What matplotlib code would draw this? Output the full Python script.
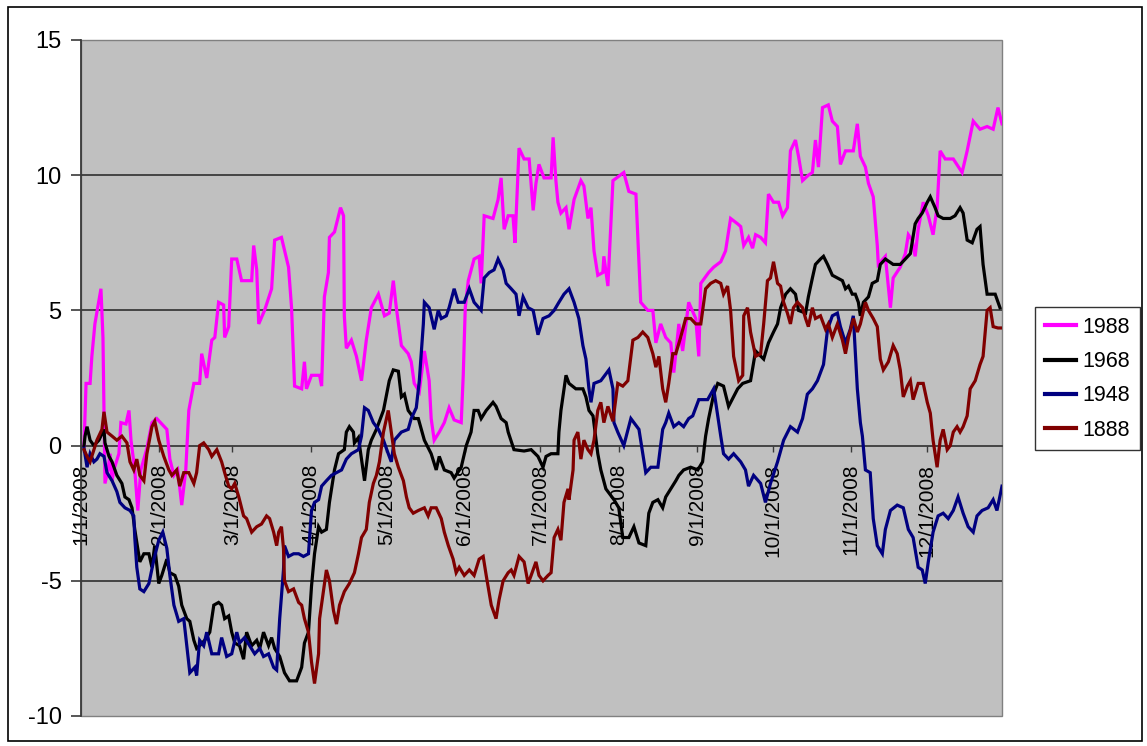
import matplotlib
matplotlib.use('Agg')
import matplotlib.pyplot as plt
from matplotlib.patches import Rectangle

plt.rcParams['font.family'] = ['Liberation Sans', 'DejaVu Sans']

# day offsets from 1/1/2008 and values
days_1988 = [1.2, 2.0, 3.6, 4.3, 5.5, 7.9, 8.7, 9.5, 10.7, 11.5, 12.3, 13.0, 15.0, 15.8, 17.8, 19.0, 19.8, 21.3,
             22.5, 23.7, 26.1, 28.1, 30.0, 32.0, 34.0, 35.2, 36.8, 38.3, 39.9, 41.5, 42.7, 44.7, 47.0, 47.8, 49.8,
             51.8, 53.0, 54.5, 56.5, 56.9, 58.5, 59.7, 61.7, 63.6, 67.6, 68.4, 69.6, 70.4, 72.7, 75.5, 76.7, 79.4,
             82.2, 83.4, 84.6, 87.4, 88.5, 89.3, 91.3, 94.5, 95.3, 96.4, 98.0, 98.4, 100.4, 102.8, 104.0, 104.3,
             105.1, 107.1, 109.1, 111.1, 113.0, 115.0, 117.8, 120.2, 122.1, 123.7, 124.9, 126.9, 129.6, 130.8,
             132.0, 134.0, 136.0, 137.9, 138.7, 139.9, 141.9, 143.9, 145.8, 147.8, 150.6, 151.4, 152.2, 153.4,
             155.7, 157.7, 158.5, 159.7, 163.2, 165.2, 166.4, 167.6, 169.2, 171.1, 171.9, 173.5, 175.5, 177.5,
             179.1, 180.2, 181.4, 183.4, 186.2, 187.0, 188.1, 188.9, 190.1, 192.1, 193.3, 195.3, 198.0, 199.2,
             200.8, 202.0, 203.2, 204.7, 206.7, 207.1, 208.7, 210.7, 215.0, 217.0, 219.8, 221.7, 224.5, 226.5,
             227.7, 229.6, 231.6, 233.6, 234.8, 236.8, 238.3, 240.7, 243.5, 244.7, 245.5, 248.6, 250.6, 253.4,
             255.3, 257.3, 260.1, 261.3, 262.5, 264.4, 266.0, 267.2, 269.2, 271.1, 272.3, 274.3, 276.3, 277.9,
             279.8, 281.0, 283.0, 284.2, 285.8, 288.1, 289.7, 290.9, 292.1, 293.7, 296.0, 297.6, 299.6, 300.8,
             302.8, 305.9, 307.5, 308.7, 310.7, 311.9, 313.8, 315.4, 315.8, 318.6, 320.6, 321.7, 324.5, 326.5,
             327.7, 329.2, 330.4, 331.6, 333.6, 335.6, 337.5, 339.1, 340.3, 342.3, 345.5, 349.0, 351.0, 353.4,
             356.1, 358.9, 361.3, 363.2, 364.8]
vals_1988 = [0, 2.3, 2.3, 3.3, 4.5, 5.8, 4.0, -1.4, -0.9, -0.3, -1.3, -0.9, -0.3, 0.85, 0.8, 1.3, 0.2, -0.9,
             -2.4, -0.9, -0.1, 0.85, 1.0, 0.8, 0.6, -0.5, -1.1, -0.9, -2.2, -0.9, 1.3, 2.3, 2.3, 3.4, 2.5,
             3.9, 4.0, 5.3, 5.2, 4.0, 4.4, 6.9, 6.9, 6.1, 6.1, 7.4, 6.5, 4.5, 5.0, 5.8, 7.6, 7.7,
             6.6, 5.1, 2.2, 2.1, 3.1, 2.1, 2.6, 2.6, 2.2, 5.5, 6.4, 7.7, 7.9, 8.8, 8.5, 4.8,
             3.6, 3.9, 3.3, 2.4, 3.9, 5.1, 5.6, 4.8, 4.9, 6.1, 5.1, 3.7, 3.4, 3.1,
             2.3, 2.0, 3.5, 2.4, 1.0, 0.2, 0.5, 0.85, 1.4, 0.95, 0.85, 2.6, 5.1, 6.1,
             6.9, 7.0, 6.0, 8.5, 8.4, 9.1, 9.9, 8.0, 8.5, 8.5, 7.5, 11.0, 10.6, 10.6,
             8.7, 9.7, 10.4, 9.9, 9.9, 11.4, 9.8, 9.0, 8.6, 8.8, 8.0, 9.1, 9.8, 9.6,
             8.4, 8.8, 7.2, 6.3, 6.4, 7.0, 5.9, 9.8, 10.1, 9.4, 9.3, 5.3, 5.0, 5.0,
             3.8, 4.5, 4.0, 3.8, 2.7, 4.5, 3.5, 5.3, 4.7, 3.3, 6.0, 6.4, 6.6, 6.8,
             7.2, 8.4, 8.2, 8.1, 7.4, 7.7, 7.3, 7.8, 7.7, 7.5, 9.3, 9.0, 9.0, 8.5,
             8.8, 10.9, 11.3, 10.7, 9.8, 10.0, 10.1, 11.3, 10.3, 12.5, 12.6, 12.0, 11.8, 10.4,
             10.9, 10.9, 11.9, 10.7, 10.3, 9.7, 9.2, 7.4, 6.7, 7.0, 5.1, 6.2, 6.6, 7.1,
             7.8, 7.6, 7.0, 8.0, 9.0, 8.5, 7.8, 8.8, 10.9, 10.6, 10.6, 10.1, 10.9, 12.0,
             11.7, 11.8, 11.7, 12.5, 11.9]

days_1968 = [1.2, 1.6, 2.4, 3.6, 5.1, 7.1, 9.1, 9.5, 11.1, 12.3, 14.2, 16.2, 17.4, 19.0, 20.2, 21.3, 23.3, 24.9,
             26.9, 28.1, 29.2, 30.8, 32.0, 34.0, 35.2, 37.2, 38.7, 39.9, 41.9, 43.1, 44.7, 45.8, 47.0, 49.0,
             51.0, 52.6, 54.5, 55.7, 56.9, 58.5, 59.7, 60.9, 62.8, 64.4, 65.6, 67.6, 69.6, 70.8, 72.3, 74.3,
             75.5, 76.7, 78.7, 80.6, 82.6, 85.4, 87.4, 88.5, 90.1, 91.3, 92.5, 94.1, 95.3, 97.2, 98.4, 100.4,
             102.0, 104.3, 105.1, 106.3, 107.9, 108.3, 109.9, 112.3, 113.8, 115.0, 117.0, 119.8, 122.1, 123.7,
             125.7, 126.9, 128.1, 129.6, 132.0, 133.6, 136.0, 138.7, 140.7, 141.9, 143.9, 146.6, 147.8, 150.6,
             152.6, 154.5, 155.7, 157.3, 158.5, 160.5, 163.2, 164.4, 166.4, 168.4, 169.2, 171.5, 175.5, 178.3,
             181.0, 183.0, 184.2, 186.2, 188.9, 189.3, 190.1, 192.1, 193.3, 196.0, 198.8, 200.0, 201.2, 202.8,
             204.7, 205.9, 207.9, 211.1, 213.0, 214.6, 217.0, 219.0, 221.0, 223.7, 224.9, 226.5, 228.5, 230.4,
             231.6, 233.6, 235.6, 236.8, 238.7, 241.5, 244.3, 246.2, 247.4, 248.6, 250.6, 252.2, 254.5, 256.5,
             260.1, 262.1, 265.2, 267.2, 270.4, 272.3, 274.3, 275.9, 277.1, 279.1, 281.0, 283.0, 284.2, 287.0,
             288.1, 289.7, 290.9, 292.9, 294.1, 295.7, 297.6, 299.6, 301.6, 302.8, 304.0, 305.5, 306.7, 307.9,
             308.7, 309.9, 311.9, 313.4, 315.4, 316.6, 318.6, 321.7, 324.5, 326.5, 328.5, 330.4, 331.6, 333.2,
             335.2, 336.4, 338.3, 339.5, 341.5, 344.3, 346.2, 348.2, 349.4, 351.0, 353.0, 354.9, 356.1, 357.3,
             358.9, 362.1, 364.0]
vals_1968 = [0, 0.35, 0.7, 0.2, 0, 0.2, 0.6, 0.1, -0.4, -0.6, -1.1, -1.4, -1.9, -2.0, -2.3, -3.1, -4.3, -4.0,
             -4.0, -4.5, -3.7, -5.1, -4.8, -4.2, -4.7, -4.8, -5.2, -5.9, -6.4, -6.5, -7.2, -7.5, -7.4, -7.2,
             -6.9, -5.9, -5.8, -5.9, -6.4, -6.3, -6.9, -7.3, -7.4, -7.9, -6.9, -7.4, -7.2, -7.5, -6.9, -7.4,
             -7.1, -7.5, -7.8, -8.4, -8.7, -8.7, -8.2, -7.3, -6.9, -5.2, -4.0, -3.0, -3.2, -3.1, -2.1, -0.9,
             -0.3, -0.15, 0.5, 0.7, 0.5, 0.1, 0.3, -1.3, -0.15, 0.2, 0.6, 1.3, 2.4, 2.8,
             2.75, 1.8, 1.9, 1.3, 1.0, 1.0, 0.2, -0.3, -0.9, -0.4, -0.9, -1.0, -1.2, -0.8,
             0, 0.5, 1.3, 1.3, 1.0, 1.3, 1.6, 1.45, 1.0, 0.85, 0.5, -0.15, -0.2, -0.15,
             -0.4, -0.8, -0.4, -0.3, -0.3, 0.5, 1.3, 2.6, 2.3, 2.1, 2.1, 1.8, 1.3, 1.1,
             -0.3, -0.9, -1.6, -2.0, -2.3, -3.4, -3.4, -3.0, -3.6, -3.7, -2.5, -2.1, -2.0, -2.3,
             -1.9, -1.6, -1.3, -1.1, -0.9, -0.8, -0.9, -0.6, 0.35, 1.0, 1.9, 2.3, 2.2, 1.45,
             2.1, 2.3, 2.4, 3.5, 3.2, 3.8, 4.2, 4.5, 5.1, 5.6, 5.8, 5.6, 5.0, 4.9,
             5.5, 6.2, 6.7, 6.9, 7.0, 6.7, 6.3, 6.2, 6.1, 5.8, 5.9, 5.6, 5.6, 5.3,
             4.8, 5.3, 5.5, 6.0, 6.1, 6.7, 6.9, 6.7, 6.7, 6.9, 7.1, 8.2, 8.4, 8.6,
             9.0, 9.2, 8.8, 8.5, 8.4, 8.4, 8.5, 8.8, 8.6, 7.6, 7.5, 8.0, 8.1, 6.7,
             5.6, 5.6, 5.1]

days_1948 = [1.2, 2.4, 3.6, 5.1, 6.3, 7.5, 9.1, 10.3, 12.3, 14.2, 15.4, 17.4, 19.4, 20.9, 21.3, 22.1, 23.3, 24.9,
             26.9, 28.9, 30.8, 32.4, 34.0, 35.2, 36.8, 38.7, 40.7, 41.9, 43.1, 45.1, 45.8, 47.0, 48.6, 49.8,
             51.8, 54.5, 55.7, 57.7, 59.7, 61.7, 62.8, 64.8, 66.8, 68.8, 70.8, 72.3, 74.3, 76.3, 77.5, 78.7,
             80.2, 80.6, 82.2, 84.2, 86.2, 88.1, 90.1, 91.3, 92.5, 94.1, 95.3, 97.2, 99.2, 101.2, 103.2, 105.1,
             107.1, 109.9, 111.1, 112.3, 113.8, 115.8, 117.8, 119.8, 121.7, 122.9, 124.1, 126.9, 129.6, 130.8,
             132.8, 134.0, 135.6, 136.0, 137.9, 139.9, 141.5, 142.7, 144.7, 145.8, 147.8, 149.4, 151.8, 153.8,
             155.7, 158.5, 159.7, 161.7, 163.6, 165.2, 167.2, 168.4, 170.4, 172.3, 173.5, 175.1, 177.1, 179.1,
             181.0, 183.0, 185.4, 187.4, 189.3, 191.3, 193.3, 195.3, 197.2, 198.8, 200.0, 201.2, 202.0, 203.2,
             205.9, 209.1, 210.7, 211.1, 212.6, 215.0, 217.8, 219.0, 221.0, 223.7, 225.7, 228.5, 230.4, 231.6,
             232.8, 234.8, 236.8, 238.7, 240.7, 242.3, 244.7, 248.2, 250.6, 252.6, 253.4, 254.5, 256.5, 258.5,
             261.3, 263.2, 264.4, 266.4, 269.2, 271.1, 273.1, 275.9, 278.3, 281.0, 283.8, 285.8, 287.7, 289.7,
             291.7, 294.1, 295.7, 297.6, 299.6, 300.8, 302.8, 304.7, 305.9, 307.5, 308.7, 309.5, 310.7, 312.6,
             313.8, 315.4, 317.4, 318.6, 320.6, 323.3, 325.7, 327.7, 329.6, 331.6, 333.2, 334.4, 335.6, 337.5,
             339.5, 341.5, 343.5, 345.5, 347.4, 349.4, 351.4, 353.4, 354.9, 356.9, 359.3, 361.3, 362.8, 364.8]
vals_1948 = [-0.1, -0.8, -0.3, -0.6, -0.5, -0.3, -0.4, -1.0, -1.3, -1.7, -2.1, -2.3, -2.4, -2.6, -3.4, -4.5, -5.3, -5.4,
             -5.1, -4.2, -3.5, -3.2, -3.8, -4.8, -5.9, -6.5, -6.4, -7.4, -8.4, -8.2, -8.5, -7.2, -7.4, -6.9,
             -7.7, -7.7, -7.1, -7.8, -7.7, -6.9, -7.3, -7.1, -7.4, -7.7, -7.5, -7.8, -7.7, -8.2, -8.3, -6.4,
             -4.6, -3.7, -4.1, -4.0, -4.0, -4.1, -4.0, -2.4, -2.1, -2.0, -1.5, -1.3, -1.1, -1.0, -0.9, -0.5,
             -0.3, -0.15, 0.35, 1.4, 1.3, 0.85, 0.6, 0.2, -0.3, -0.6, 0.2, 0.5, 0.6, 1.0,
             1.4, 2.4, 4.5, 5.3, 5.1, 4.3, 5.0, 4.7, 4.8, 5.1, 5.8, 5.3, 5.3, 5.8,
             5.3, 5.0, 6.2, 6.4, 6.5, 6.9, 6.5, 6.0, 5.8, 5.6, 4.8, 5.5, 5.1, 5.0,
             4.1, 4.7, 4.8, 5.0, 5.3, 5.6, 5.8, 5.3, 4.7, 3.7, 3.2, 2.1, 1.6, 2.3,
             2.4, 2.8, 2.1, 0.85, 0.5, 0, 1.0, 0.85, 0.6, -1.0, -0.8, -0.8, 0.6, 0.85,
             1.2, 0.7, 0.85, 0.7, 1.0, 1.1, 1.7, 1.7, 2.1, 0.85, 0.35, -0.3, -0.5, -0.3,
             -0.6, -0.9, -1.5, -1.1, -1.4, -2.1, -1.4, -0.6, 0.2, 0.7, 0.5, 1.0, 1.9, 2.1,
             2.4, 3.0, 4.3, 4.8, 4.9, 4.4, 3.8, 4.3, 4.8, 2.1, 0.85, 0.35, -0.9, -1.0,
             -2.7, -3.7, -4.0, -3.1, -2.4, -2.2, -2.3, -3.1, -3.4, -4.5, -4.6, -5.1, -4.3, -3.2,
             -2.6, -2.5, -2.7, -2.4, -1.9, -2.5, -3.0, -3.2, -2.6, -2.4, -2.3, -2.0, -2.4, -1.5]

days_1888 = [1.2, 2.4, 3.6, 5.1, 6.3, 8.3, 9.1, 10.3, 12.3, 14.2, 16.2, 18.2, 19.4, 20.9, 22.1, 23.3, 24.9, 26.1,
             28.1, 29.2, 30.8, 32.8, 34.8, 36.0, 37.9, 39.1, 40.7, 42.7, 44.7, 45.8, 47.0, 48.6, 50.6, 51.8,
             53.8, 55.7, 56.9, 58.5, 59.7, 60.9, 62.5, 64.4, 65.6, 67.6, 69.6, 71.5, 73.5, 74.7, 76.3, 77.5,
             78.3, 79.4, 80.2, 80.6, 82.2, 84.2, 86.2, 87.4, 88.5, 90.1, 91.3, 92.5, 94.1, 94.5, 96.0, 97.2,
             98.4, 100.0, 101.2, 102.4, 104.3, 106.3, 108.3, 109.9, 111.1, 113.0, 114.2, 115.8, 117.0, 118.2,
             119.8, 121.7, 122.9, 124.1, 125.7, 127.7, 128.9, 130.0, 131.6, 133.6, 136.0, 137.5, 138.7, 140.7,
             142.7, 143.9, 145.5, 147.4, 148.6, 149.8, 151.8, 153.8, 155.7, 157.7, 159.3, 160.5, 162.5, 164.4,
             165.6, 167.2, 169.2, 170.4, 171.5, 173.5, 175.5, 177.1, 178.3, 180.2, 181.4, 183.0, 185.0, 186.2,
             187.4, 188.9, 190.1, 191.3, 192.9, 193.3, 194.9, 195.3, 196.8, 198.0, 199.2, 200.8, 202.0, 203.2,
             204.7, 205.9, 207.1, 208.7, 210.7, 212.6, 214.6, 216.6, 218.6, 220.6, 222.5, 224.5, 226.5, 227.7,
             228.9, 230.4, 231.6, 232.8, 234.4, 235.6, 237.5, 239.5, 241.5, 243.5, 245.5, 247.4, 249.4, 251.4,
             253.4, 254.5, 256.1, 257.3, 258.5, 260.5, 262.1, 262.5, 264.0, 265.2, 267.2, 269.2, 270.4, 271.9,
             273.1, 274.3, 275.9, 277.1, 278.3, 279.8, 281.0, 282.2, 283.8, 285.8, 287.0, 288.1, 289.7, 290.9,
             292.9, 294.9, 296.0, 297.6, 299.6, 301.6, 302.8, 304.0, 306.0, 307.5, 308.7, 310.7, 311.9, 313.8,
             315.4, 316.6, 317.8, 319.8, 321.7, 323.3, 324.5, 325.7, 327.3, 328.5, 329.6, 331.6, 333.6, 335.2,
             336.4, 337.5, 339.1, 340.3, 341.5, 343.1, 344.3, 345.5, 347.0, 348.2, 349.4, 351.0, 352.2, 354.2,
             356.1, 357.3, 358.9, 360.1, 361.3, 363.2, 364.8]
vals_1888 = [-0.15, -0.4, -0.6, -0.15, 0.2, 0.6, 1.25, 0.5, 0.35, 0.2, 0.35, 0.1, -0.6, -0.9, -0.5, -1.1, -1.3, -0.3,
             0.7, 0.9, 0.2, -0.4, -0.9, -1.1, -0.9, -1.5, -1.0, -1.0, -1.4, -1.0, 0, 0.1, -0.15, -0.4,
             -0.15, -0.6, -1.0, -1.5, -1.6, -1.4, -1.9, -2.6, -2.7, -3.2, -3.0, -2.9, -2.6, -2.7, -3.2, -3.7,
             -3.2, -3.0, -3.8, -5.0, -5.4, -5.3, -5.8, -5.9, -6.4, -6.9, -8.0, -8.8, -7.7, -6.4, -5.4, -4.6,
             -5.0, -6.1, -6.6, -5.9, -5.4, -5.1, -4.7, -4.0, -3.4, -3.1, -2.1, -1.4, -1.1, -0.6,
             0.5, 1.3, 0.5, -0.3, -0.8, -1.3, -1.9, -2.3, -2.5, -2.4, -2.3, -2.6, -2.3, -2.3,
             -2.7, -3.2, -3.7, -4.2, -4.7, -4.5, -4.8, -4.6, -4.8, -4.2, -4.1, -4.8, -5.9, -6.4,
             -5.7, -5.0, -4.7, -4.6, -4.8, -4.1, -4.3, -5.1, -4.8, -4.3, -4.8, -5.0, -4.8, -4.7,
             -3.4, -3.1, -3.5, -2.1, -1.6, -2.0, -0.9, 0.2, 0.5, -0.5, 0.2, -0.15, -0.3, 0.2,
             1.3, 1.6, 0.85, 1.45, 0.9, 2.3, 2.2, 2.4, 3.9, 4.0, 4.2, 4.0, 3.4, 2.9,
             3.3, 2.1, 1.6, 2.3, 3.4, 3.4, 4.0, 4.7, 4.7, 4.5, 4.5, 5.8, 6.0, 6.1,
             6.0, 5.6, 5.9, 5.0, 3.3, 2.4, 2.6, 4.8, 5.1, 4.2, 3.3, 3.4, 4.5, 6.1,
             6.2, 6.8, 6.0, 5.9, 5.3, 4.9, 4.5, 5.1, 5.3, 5.1, 4.7, 4.4, 5.1, 4.7,
             4.8, 4.3, 4.5, 4.0, 4.5, 3.9, 3.4, 4.0, 4.7, 4.2, 4.5, 5.3, 5.0, 4.7,
             4.4, 3.2, 2.8, 3.1, 3.7, 3.4, 2.8, 1.8, 2.2, 2.4, 1.7, 2.3, 2.3, 1.6,
             1.2, 0.2, -0.8, 0.2, 0.6, -0.15, 0, 0.5, 0.7, 0.5, 0.7, 1.1, 2.1, 2.4,
             3.0, 3.3, 5.0, 5.1, 4.4, 4.35, 4.35]

series_names = ['1988', '1968', '1948', '1888']
series_colors = ['#FF00FF', '#000000', '#000080', '#800000']

month_days = [0, 31, 60, 91, 121, 152, 182, 213, 244, 274, 305, 335]
month_labels = ['1/1/2008', '2/1/2008', '3/1/2008', '4/1/2008', '5/1/2008', '6/1/2008',
                '7/1/2008', '8/1/2008', '9/1/2008', '10/1/2008', '11/1/2008', '12/1/2008']
y_ticks = [-10, -5, 0, 5, 10, 15]

fig = plt.figure(figsize=(11.47, 7.46), dpi=100)
fig.patch.set_facecolor('white')
fig.patches.append(Rectangle((8 / 1147, 5 / 746), 1134 / 1147, 734 / 746, transform=fig.transFigure,
                             fill=False, edgecolor='black', linewidth=1.2))

ax = fig.add_axes([81 / 1147, 30 / 746, 921 / 1147, 676 / 746])
ax.set_facecolor('#C0C0C0')
ax.patch.set_edgecolor('#808080')
ax.patch.set_linewidth(1.0)

for yv in [10, 5, -5]:
    ax.axhline(yv, color='#3a3a3a', linewidth=1.3, zorder=1)

all_days = [days_1988, days_1968, days_1948, days_1888]
all_vals = [vals_1988, vals_1968, vals_1948, vals_1888]
for d, v, name, c in zip(all_days, all_vals, series_names, series_colors):
    ax.plot(d, v, color=c, linewidth=2.3, label=name, zorder=3, solid_joinstyle='miter')

ax.set_xlim(0.8, 364.8)
ax.set_ylim(-10, 15)

ax.spines['top'].set_visible(False)
ax.spines['right'].set_visible(False)
ax.spines['left'].set_color('#3a3a3a')
ax.spines['left'].set_linewidth(1.3)
ax.spines['bottom'].set_position(('data', 0))
ax.spines['bottom'].set_color('#3a3a3a')
ax.spines['bottom'].set_linewidth(1.3)
ax.spines['bottom'].set_zorder(1)

ax.set_yticks(y_ticks)
ax.set_yticklabels([str(t) for t in y_ticks], fontsize=17)
ax.tick_params(axis='y', length=7, width=1.2, color='#3a3a3a', pad=7)

ax.set_xticks(month_days)
ax.set_xticklabels(month_labels, rotation=90, fontsize=15, va='top', ha='center')
ax.tick_params(axis='x', length=4, width=1.0, color='#3a3a3a', pad=9)

leg = fig.legend(loc='upper left', bbox_to_anchor=(1035 / 1147, 1 - 307 / 746), fontsize=15.5,
                 frameon=True, fancybox=False, shadow=False, borderaxespad=0,
                 handlelength=1.45, handletextpad=0.3, labelspacing=0.62, borderpad=0.45)
leg.get_frame().set_edgecolor('black')
leg.get_frame().set_linewidth(1.0)
for line in leg.get_lines():
    line.set_linewidth(3)

fig.savefig('out.png', dpi=100)
